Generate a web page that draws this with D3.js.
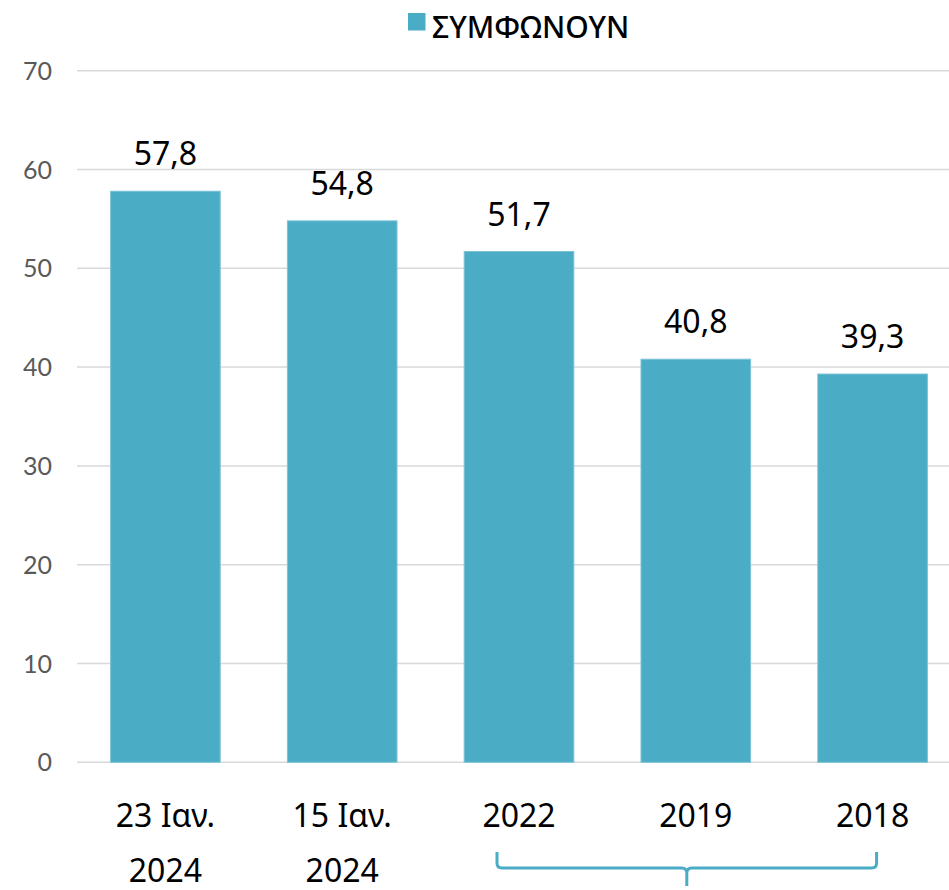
<!DOCTYPE html>
<html>
<head>
<meta charset="utf-8">
<script src="https://cdn.jsdelivr.net/npm/d3@7"></script>
<style>
  body { margin: 0; background: #fff; }
  svg { display: block; }
</style>
</head>
<body>
<svg></svg>
<script>
const size = {w: 949, h: 890};
const margins = {t: 70.7, b: 890 - 762.3, l: 77};

const categories = [['23 Ιαν.', '2024'], ['15 Ιαν.', '2024'], ['2022'], ['2019'], ['2018']];
const values = [57.8, 54.8, 51.7, 40.8, 39.3];
const valueLabels = ['57,8', '54,8', '51,7', '40,8', '39,3'];
const yTicks = [0, 10, 20, 30, 40, 50, 60, 70];
const seriesName = 'ΣΥΜΦΩΝΟΥΝ';
const barColor = '#4bacc6';

const svg = d3.select('svg')
    .attr('width', size.w)
    .attr('height', size.h);

const keys = categories.map((c, i) => i);

let x = d3.scaleBand()
    .domain(keys)
    .range([margins.l, 961])
    .paddingInner(0.38)
    .paddingOuter(0.19);

let y = d3.scaleLinear()
    .domain([0, 70])
    .range([size.h - margins.b, margins.t]);

// gridlines
svg.append('g').classed('grid', true)
    .selectAll('line')
    .data(yTicks)
    .join('line')
    .attr('x1', margins.l)
    .attr('x2', size.w)
    .attr('y1', d => y(d))
    .attr('y2', d => y(d))
    .attr('stroke', '#d9d9d9')
    .attr('stroke-width', 1.5);

// y labels
svg.append('g').classed('y_axis', true)
    .selectAll('text')
    .data(yTicks)
    .join('text')
    .attr('x', 52)
    .attr('y', d => y(d))
    .attr('dy', '0.36em')
    .attr('text-anchor', 'end')
    .attr('fill', '#595959')
    .style('font-family', 'Lato, "Open Sans", sans-serif')
    .style('font-size', '25px')
    .text(d => d);

// bars
svg.append('g').classed('bars', true)
    .selectAll('rect')
    .data(values)
    .join('rect')
    .attr('x', (d, i) => x(i))
    .attr('y', d => y(d))
    .attr('width', x.bandwidth())
    .attr('height', d => y(0) - y(d))
    .attr('fill', barColor)
    .attr('stroke', '#7cc3d6')
    .attr('stroke-width', 1);

// value labels
svg.append('g').classed('values', true)
    .selectAll('text')
    .data(values)
    .join('text')
    .attr('x', (d, i) => x(i) + x.bandwidth() / 2)
    .attr('y', d => y(d) - 26)
    .attr('text-anchor', 'middle')
    .attr('fill', '#000')
    .style('font-family', '"Noto Sans", "Open Sans", sans-serif')
    .style('font-size', '32px')
    .text((d, i) => valueLabels[i]);

// category labels
const catG = svg.append('g').classed('x_axis', true);
categories.forEach((lines, i) => {
    const t = catG.append('text')
        .attr('text-anchor', 'middle')
        .attr('fill', '#000')
        .style('font-family', '"Noto Sans", "Open Sans", sans-serif')
        .style('font-size', '32px');
    lines.forEach((l, j) => {
        t.append('tspan')
            .attr('x', x(i) + x.bandwidth() / 2)
            .attr('y', 827 + j * 55)
            .text(l);
    });
});

// brace under 2022 - 2018
const bx0 = x(2) + x.bandwidth() / 2 - 22;
const bx1 = x(4) + x.bandwidth() / 2 + 4;
const bmid = (bx0 + bx1) / 2;
const r = 5;
const by0 = 852, by1 = 868, by2 = 886;
svg.append('path')
    .attr('d', `M${bx0},${by0} V${by1 - r} Q${bx0},${by1} ${bx0 + r},${by1}
        H${bmid - r} Q${bmid},${by1} ${bmid},${by1 + r} V${by2}
        M${bmid},${by1 + r} Q${bmid},${by1} ${bmid + r},${by1}
        H${bx1 - r} Q${bx1},${by1} ${bx1},${by1 - r} V${by0}`)
    .attr('fill', 'none')
    .attr('stroke', barColor)
    .attr('stroke-width', 3);

// legend
const legend = svg.append('g').classed('legend', true);
legend.append('rect')
    .attr('x', 408)
    .attr('y', 13)
    .attr('width', 17.5)
    .attr('height', 17.5)
    .attr('fill', barColor);
legend.append('text')
    .attr('x', 432)
    .attr('y', 38)
    .attr('fill', '#000')
    .style('font-family', '"Noto Sans", "Open Sans", sans-serif')
    .style('font-size', '30px')
    .style('font-weight', 500)
    .text(seriesName);
</script>
</body>
</html>
